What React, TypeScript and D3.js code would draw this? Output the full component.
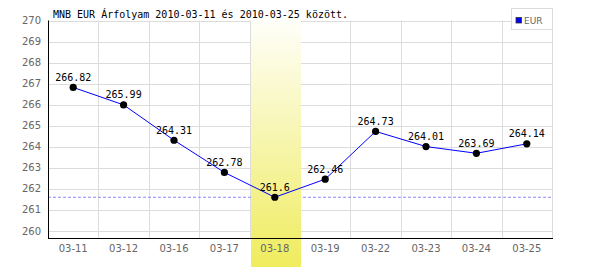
import React from "react";
import * as d3 from "d3";

const categories = ["03-11", "03-12", "03-16", "03-17", "03-18", "03-19", "03-22", "03-23", "03-24", "03-25"];
const values = [266.82, 265.99, 264.31, 262.78, 261.6, 262.46, 264.73, 264.01, 263.69, 264.14];
const yTicks = [260, 261, 262, 263, 264, 265, 266, 267, 268, 269, 270];
const highlightCategory = "03-18";
const minValue = 261.6;
const title = "MNB EUR Árfolyam 2010-03-11 és 2010-03-25 között.";
const seriesName = "EUR";

export default function App() {
  const W = 600, H = 270;
  const left = 48, right = 552, top = 20.5, bottom = 238.3;
  const x = d3.scaleBand<string>().domain(categories).range([left, right]);
  const y = d3.scaleLinear().domain([259.65, 270]).range([bottom, top]);
  const bw = x.bandwidth();
  const cx = (c: string) => (x(c) as number) + bw / 2;
  const line = d3.line<number>().x((_, i) => cx(categories[i])).y((v) => y(v));
  const hx = x(highlightCategory) as number;
  const mono = "'DejaVu Sans Mono', monospace";
  const sans = "'DejaVu Sans', sans-serif";
  return (
    <svg width={W} height={H} style={{ position: "absolute", left: 0, top: 0 }}>
      <defs>
        <linearGradient id="hl" x1="0" y1="0" x2="0" y2="1">
          <stop offset="0" stopColor="#ffffff" />
          <stop offset="1" stopColor="#efec5e" />
        </linearGradient>
      </defs>
      <rect width={W} height={H} fill="#fff" />
      {yTicks.map((t) => (
        <line key={"h" + t} x1={left} x2={right} y1={Math.round(y(t)) + 0.5} y2={Math.round(y(t)) + 0.5} stroke="#dcdcdc" />
      ))}
      {categories.map((c) => (
        <line key={"v" + c} x1={Math.round(x(c) as number) + 0.5} x2={Math.round(x(c) as number) + 0.5} y1={top} y2={bottom} stroke="#dcdcdc" />
      ))}
      <line x1={right + 0.5} x2={right + 0.5} y1={top} y2={bottom} stroke="#dcdcdc" />
      <line x1={left} x2={right} y1={y(minValue)} y2={y(minValue)} stroke="#8888ff" strokeDasharray="3,2" />
      <rect x={Math.round(hx) + 1} y={12} width={Math.round(bw)} height={255} fill="url(#hl)" />
      <line x1={left + 0.5} x2={left + 0.5} y1={top} y2={bottom + 0.5} stroke="#000" />
      <line x1={left} x2={right + 1} y1={Math.round(bottom) + 0.5} y2={Math.round(bottom) + 0.5} stroke="#000" />
      {yTicks.map((t) => (
        <text key={"yl" + t} x={41} y={y(t) + 3.6} textAnchor="end" fontFamily={sans} fontSize={10} fill="#666">{t}</text>
      ))}
      {categories.map((c) => (
        <text key={"xl" + c} x={cx(c)} y={251.5} textAnchor="middle" fontFamily={sans} fontSize={10} fill="#666">{c}</text>
      ))}
      <path d={line(values) as string} fill="none" stroke="#0000ff" strokeWidth={1} />
      {values.map((v, i) => (
        <circle key={"p" + i} cx={cx(categories[i])} cy={y(v)} r={3.6} fill="#000" />
      ))}
      {values.map((v, i) => (
        <text key={"l" + i} x={cx(categories[i])} y={y(v) - 6.5} textAnchor="middle" fontFamily={mono} fontSize={10} fill="#000">{String(v)}</text>
      ))}
      <text x={53} y={18} fontFamily={mono} fontSize={10} fill="#000">{title}</text>
      <rect x={511.5} y={8.5} width={41} height={21} fill="#fff" stroke="#dcdcdc" />
      <rect x={516} y={17.5} width={5.5} height={5.5} fill="#0000ff" stroke="#333" strokeWidth={0.8} />
      <text x={524} y={24} fontFamily={sans} fontSize={9} fill="#666">{seriesName}</text>
    </svg>
  );
}
